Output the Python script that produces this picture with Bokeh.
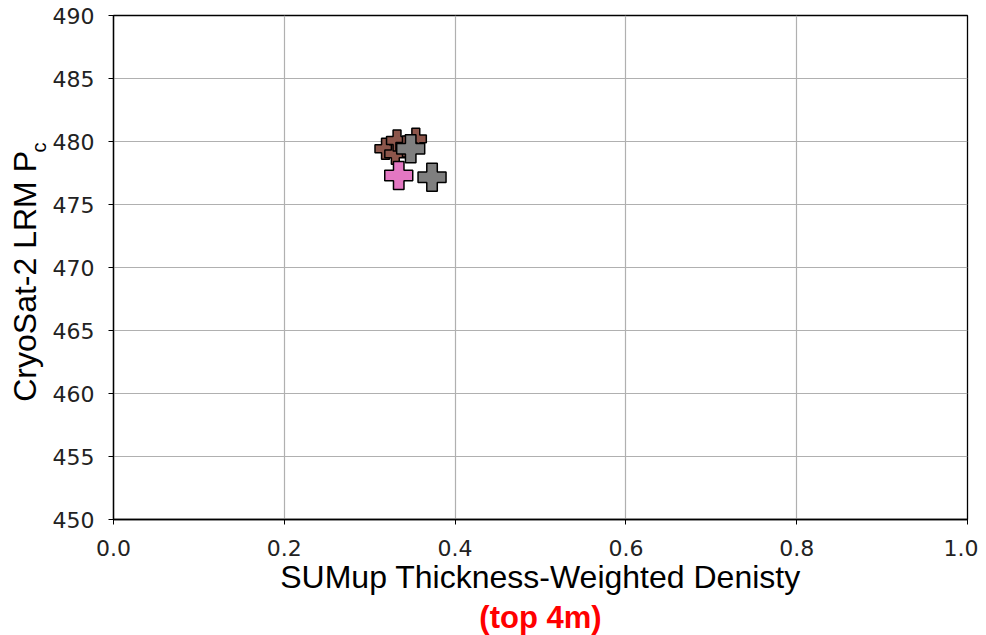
from bokeh.plotting import figure
from bokeh.models import Range1d, FixedTicker, NumeralTickFormatter, Title, LinearAxis
from bokeh.embed import file_html
from bokeh.resources import INLINE

# data
brown_x = [0.3185, 0.330, 0.332, 0.354, 0.343]
brown_y = [479.42, 479.02, 480.08, 480.21, 479.6]
pink_x = [0.334]
pink_y = [477.3]
gray_x = [0.348, 0.373]
gray_y = [479.42, 477.17]

x_ticks = [0.0, 0.2, 0.4, 0.6, 0.8, 1.0]
y_ticks = [450, 455, 460, 465, 470, 475, 480, 485, 490]

p = figure(width=978, height=635, output_backend="svg", toolbar_location=None,
           x_range=Range1d(0, 1), y_range=Range1d(450, 490),
           min_border_left=113, min_border_right=11, min_border_top=15, min_border_bottom=116)

p.scatter(brown_x, brown_y, marker="plus", size=21, fill_color="#8c564b",
          line_color="black", line_width=1.5)
p.scatter(pink_x, pink_y, marker="plus", size=28, fill_color="#e377c2",
          line_color="black", line_width=1.5)
p.scatter(gray_x, gray_y, marker="plus", size=28, fill_color="#7f7f7f",
          line_color="black", line_width=1.5)

p.outline_line_color = "black"
p.outline_line_width = 1.3
p.background_fill_color = "white"
p.border_fill_color = "white"

for ax in (p.xaxis[0], p.yaxis[0]):
    ax.axis_line_color = "black"
    ax.axis_line_width = 1.3
    ax.major_tick_out = 5
    ax.major_tick_in = 0
    ax.minor_tick_out = 0
    ax.minor_tick_in = 0
    ax.major_tick_line_color = "black"
    ax.major_label_text_font = "DejaVu Sans"
    ax.major_label_text_font_size = "22px"
    ax.major_label_text_color = "#222222"
    ax.axis_label_text_font = "Liberation Sans"
    ax.axis_label_text_font_size = "32px"
    ax.axis_label_text_font_style = "normal"
    ax.axis_label_text_color = "black"

p.xaxis[0].ticker = FixedTicker(ticks=x_ticks)
p.yaxis[0].ticker = FixedTicker(ticks=y_ticks)
p.xaxis[0].formatter = NumeralTickFormatter(format="0.0")
p.xaxis[0].major_label_standoff = 15
p.yaxis[0].major_label_standoff = 14

p.xaxis[0].axis_label = "SUMup Thickness-Weighted Denisty"
p.xaxis[0].axis_label_standoff = 0

# subscript "c" of P_c, sitting between the tick labels and the main label
p.add_layout(Title(text="c", align="right", offset=127, standoff=0,
                   text_font="Liberation Sans", text_font_size="20px",
                   text_font_style="normal", text_color="black"), "left")

# main y label on an extra, otherwise invisible, axis
ylab = LinearAxis(ticker=FixedTicker(ticks=[]),
                  axis_line_color=None, major_tick_line_color=None,
                  minor_tick_line_color=None, major_tick_out=0, major_tick_in=0,
                  minor_tick_out=0, minor_tick_in=0,
                  major_label_text_font_size="0px",
                  axis_label="CryoSat-2 LRM P\u00a0\u00a0", axis_label_standoff=-17,
                  axis_label_text_font="Liberation Sans",
                  axis_label_text_font_size="32px",
                  axis_label_text_font_style="normal",
                  axis_label_text_color="black")
p.add_layout(ylab, "left")

p.xgrid.ticker = FixedTicker(ticks=x_ticks)
p.ygrid.ticker = FixedTicker(ticks=y_ticks)
p.grid.grid_line_color = "#b0b0b0"
p.grid.grid_line_width = 1.2

# red note below x label
p.add_layout(Title(text="(top 4m)", align="center", text_color="#ff0000",
                   text_font="Liberation Sans", text_font_size="31px",
                   text_font_style="bold", standoff=1), "below")

open("out.html", "w").write(file_html(p, INLINE))
